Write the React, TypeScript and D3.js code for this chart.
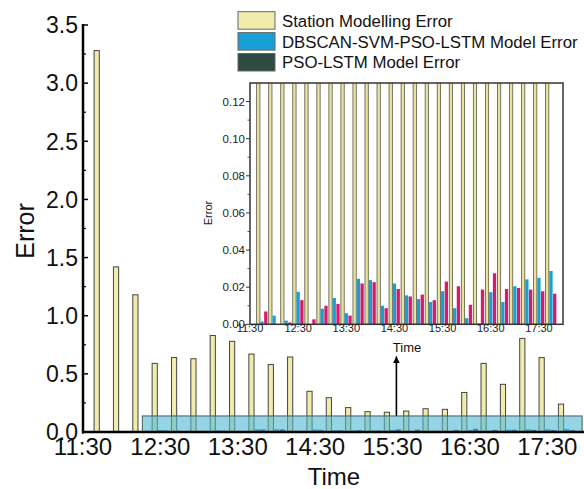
import React from "react";
import * as d3 from "d3";

// ---- data ----
const slotTimes = [
  "11:45","12:00","12:15","12:30","12:45","13:00","13:15","13:30","13:45","14:00",
  "14:15","14:30","14:45","15:00","15:15","15:30","15:45","16:00","16:15","16:30",
  "16:45","17:00","17:15","17:30","17:45",
];
const stationErr = [
  3.28, 1.42, 1.18, 0.59, 0.64, 0.63, 0.83, 0.78, 0.67, 0.58,
  0.645, 0.35, 0.295, 0.21, 0.175, 0.17, 0.18, 0.2, 0.195, 0.34,
  0.59, 0.41, 0.805, 0.64, 0.24,
];
const dbscanErr = [
  0.0015, 0.0047, 0.002, 0.0175, 0.0, 0.0084, 0.0142, 0.006, 0.0245, 0.0238,
  0.01, 0.022, 0.0156, 0.0136, 0.012, 0.0178, 0.0087, 0.0033, 0.0005, 0.0173,
  0.012, 0.0205, 0.0242, 0.025, 0.0287,
];
const psoErr = [
  0.0069, 0.0, 0.001, 0.013, 0.0027, 0.01, 0.011, 0.0047, 0.022, 0.0227,
  0.0087, 0.019, 0.015, 0.016, 0.013, 0.023, 0.0205, 0.0105, 0.0187, 0.0275,
  0.019, 0.0196, 0.0187, 0.0178, 0.0165,
];
const xTickLabels = ["11:30", "12:30", "13:30", "14:30", "15:30", "16:30", "17:30"];
const mainYTicks = [0, 0.5, 1.0, 1.5, 2.0, 2.5, 3.0, 3.5];
const insetYTicks = [0, 0.02, 0.04, 0.06, 0.08, 0.1, 0.12];
const legendLabels = [
  "Station Modelling Error",
  "DBSCAN-SVM-PSO-LSTM Model Error",
  "PSO-LSTM Model Error",
];
const zoomBox = { t0: "12:16", t1: "17:57", y0: 0, y1: 0.138 };
const arrowAnno = { t: "15:33", y0: 0.14, y1: 0.65 };

const FONT = "'Liberation Sans', Arial, Helvetica, sans-serif";
const YELLOW = "#F1EBAC";
const BLUE = "#18A0D6";
const GREEN = "#2E4A43";
const MAGENTA = "#D8196F";

const toMin = (s: string) => {
  const [h, m] = s.split(":").map(Number);
  return (h - 11) * 60 + m - 30;
};

export default function App() {
  const W = 584, H = 489;
  // main plot
  const x = d3.scaleLinear().domain([0, 390]).range([83, 586]);
  const y = d3.scaleLinear().domain([0, 3.5]).range([432, 25]);
  const sub = d3.scaleBand().domain(["s", "d", "p"]).range([-8.25, 8.25]).paddingInner(0.08);
  // inset
  const xi = d3.scaleLinear().domain([0, 390]).range([250, 563]);
  const yi = d3.scaleLinear().domain([0, 0.13]).range([324.3, 83]);
  const subi = d3.scaleBand().domain(["s", "d", "p"]).range([-5.4, 5.4]).paddingInner(0.12);

  const mainMinor = d3.range(0.25, 3.5, 0.5);
  const insetMinor = d3.range(0.01, 0.13, 0.02);
  const legendColors = [YELLOW, BLUE, GREEN];

  return (
    <svg width={W} height={H} style={{ position: "absolute", left: 0, top: 0, background: "#fff" }} fontFamily={FONT}>
      <defs>
        <clipPath id="insetClip">
          <rect x={250} y={83} width={313} height={241.3} />
        </clipPath>
        <marker id="arrowHead" viewBox="0 0 10 10" refX="10" refY="5" markerWidth="7" markerHeight="9" orient="auto" markerUnits="userSpaceOnUse">
          <path d="M0,0 L10,5 L0,10 z" fill="#000" />
        </marker>
      </defs>

      {/* main bars */}
      {slotTimes.map((t, i) => {
        const c = x(toMin(t));
        return (
          <g key={"m" + i}>
            <rect x={c + sub("s")!} y={y(stationErr[i])} width={sub.bandwidth()} height={y(0) - y(stationErr[i])}
              fill={YELLOW} stroke="#444" strokeWidth={1} />
            <rect x={c + sub("d")!} y={y(dbscanErr[i])} width={sub.bandwidth()} height={y(0) - y(dbscanErr[i])}
              fill={BLUE} />
            <rect x={c + sub("p")!} y={y(psoErr[i])} width={sub.bandwidth()} height={y(0) - y(psoErr[i])}
              fill={GREEN} />
          </g>
        );
      })}

      {/* zoom box */}
      <rect x={x(toMin(zoomBox.t0))} y={y(zoomBox.y1)} width={x(toMin(zoomBox.t1)) - x(toMin(zoomBox.t0))}
        height={y(zoomBox.y0) - y(zoomBox.y1)} fill="#4DB8D4" fillOpacity={0.6} stroke="#4a5a5e" strokeWidth={1} />

      {/* main axes */}
      <line x1={83} x2={83} y1={y(3.5) - 1} y2={433.5} stroke="#000" strokeWidth={2.5} />
      <line x1={82} x2={584} y1={432} y2={432} stroke="#000" strokeWidth={2.5} />
      {mainYTicks.map((v) => (
        <g key={"yt" + v}>
          <line x1={83} x2={88} y1={y(v)} y2={y(v)} stroke="#000" strokeWidth={1.5} />
          <text x={78} y={y(v)} dy="0.36em" textAnchor="end" fontSize={23} fill="#111">{v.toFixed(1)}</text>
        </g>
      ))}
      {mainMinor.map((v) => (
        <line key={"ym" + v} x1={83} x2={86} y1={y(v)} y2={y(v)} stroke="#000" strokeWidth={1.2} />
      ))}
      {xTickLabels.map((t) => (
        <text key={"xt" + t} x={x(toMin(t))} y={455} textAnchor="middle" fontSize={24} fill="#111">{t}</text>
      ))}
      <text x={334} y={485} textAnchor="middle" fontSize={24} fill="#111">Time</text>
      <text transform={`translate(34,231) rotate(-90)`} textAnchor="middle" fontSize={25} fill="#111">Error</text>

      {/* arrow */}
      <line x1={x(toMin(arrowAnno.t))} x2={x(toMin(arrowAnno.t))} y1={y(arrowAnno.y0)} y2={y(arrowAnno.y1)}
        stroke="#000" strokeWidth={1.6} markerEnd="url(#arrowHead)" />

      {/* inset */}
      <rect x={250} y={83} width={313} height={241.3} fill="#fff" />
      <g clipPath="url(#insetClip)">
        {slotTimes.map((t, i) => {
          const c = xi(toMin(t));
          return (
            <g key={"i" + i}>
              <rect x={c + subi("s")!} y={yi(stationErr[i])} width={subi.bandwidth()} height={yi(0) - yi(stationErr[i])}
                fill="#E9E29C" stroke="#5a5a4a" strokeWidth={0.8} />
              <rect x={c + subi("d")!} y={yi(dbscanErr[i])} width={subi.bandwidth()} height={yi(0) - yi(dbscanErr[i])}
                fill={BLUE} />
              <rect x={c + subi("p")!} y={yi(psoErr[i])} width={subi.bandwidth()} height={yi(0) - yi(psoErr[i])}
                fill={MAGENTA} />
            </g>
          );
        })}
      </g>
      <rect x={250} y={83} width={313} height={241.3} fill="none" stroke="#333" strokeWidth={1.5} />
      {insetYTicks.map((v) => (
        <g key={"iy" + v}>
          <line x1={250} x2={246} y1={yi(v)} y2={yi(v)} stroke="#333" strokeWidth={1} />
          <text x={245} y={yi(v)} dy="0.36em" textAnchor="end" fontSize={11.5} fill="#222">{v.toFixed(2)}</text>
        </g>
      ))}
      {insetMinor.map((v) => (
        <line key={"im" + v} x1={250} x2={247.5} y1={yi(v)} y2={yi(v)} stroke="#333" strokeWidth={0.8} />
      ))}
      {xTickLabels.map((t) => (
        <text key={"ixt" + t} x={xi(toMin(t))} y={332} textAnchor="middle" fontSize={11} fill="#222">{t}</text>
      ))}
      <text x={407} y={352} textAnchor="middle" fontSize={13} fill="#111">Time</text>
      <text transform={`translate(212,213) rotate(-90)`} textAnchor="middle" fontSize={11} fill="#222">Error</text>

      {/* legend */}
      {legendLabels.map((lab, i) => (
        <g key={"lg" + i} transform={`translate(238, ${11.7 + i * 20.9})`}>
          <rect x={0} y={0} width={37} height={17.5} fill={legendColors[i]} stroke="#666" strokeWidth={1} />
          <text x={44} y={8.9} dy="0.36em" fontSize={16.8} fill="#111">{lab}</text>
        </g>
      ))}
    </svg>
  );
}
